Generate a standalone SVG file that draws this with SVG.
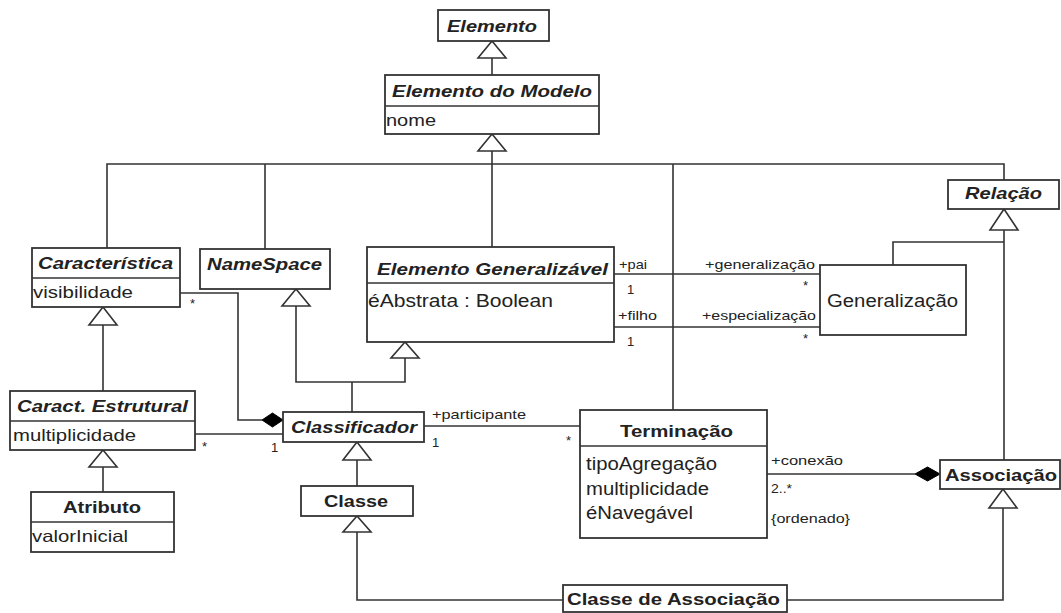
<svg xmlns="http://www.w3.org/2000/svg" width="1061" height="613" viewBox="0 0 1061 613">
  <style>
    .box { fill: #fff; stroke: #333; stroke-width: 1.8; }
    .div { stroke: #333; stroke-width: 1.5; }
    .ln { fill: none; stroke: #333; stroke-width: 1.6; }
    .tri { fill: #fff; stroke: #333; stroke-width: 1.6; }
    .dia { fill: #000; stroke: #000; stroke-width: 1; }
    text { font-family: "Liberation Sans", Arial, sans-serif; fill: #222; }
    .ab { font-weight: bold; font-style: italic; font-size: 16.5px; }
    .cb { font-weight: bold; font-size: 16.5px; }
    .at { font-size: 16.5px; }
    .at2 { font-size: 17.5px; }
    .lb { font-size: 13px; }
  </style>

  <!-- generalization / composition / association lines -->
  <g id="connectors">
    <!-- Elemento do Modelo -> Elemento -->
    <line class="ln" x1="492" y1="58" x2="492" y2="75"/>
    <polygon class="tri" points="492,41 478,58 506,58"/>
    <!-- tree under Elemento do Modelo -->
    <line class="ln" x1="492" y1="151" x2="492" y2="247"/>
    <polygon class="tri" points="492,134 478,151 506,151"/>
    <polyline class="ln" points="107,248 107,164 1004,164 1004,180"/>
    <line class="ln" x1="265" y1="164" x2="265" y2="249"/>
    <line class="ln" x1="673" y1="164" x2="673" y2="410"/>
    <!-- Relacao tree -->
    <polygon class="tri" points="1004,209 990,230 1018,230"/>
    <line class="ln" x1="1004" y1="230" x2="1004" y2="460"/>
    <polyline class="ln" points="1004,242 893,242 893,265"/>
    <!-- Caracteristica -> Caract. Estrutural -->
    <polygon class="tri" points="103,307 89,325 117,325"/>
    <line class="ln" x1="103" y1="325" x2="103" y2="391"/>
    <!-- Caract. Estrutural -> Atributo -->
    <polygon class="tri" points="103,450 89,467 117,467"/>
    <line class="ln" x1="103" y1="467" x2="103" y2="492"/>
    <!-- NameSpace + Elemento Generalizavel -> Classificador -->
    <polygon class="tri" points="296,289 282,306 310,306"/>
    <polygon class="tri" points="405,342 391,358 419,358"/>
    <polyline class="ln" points="296,306 296,382 405,382 405,358"/>
    <line class="ln" x1="352" y1="382" x2="352" y2="412"/>
    <!-- Caracteristica composed in Classificador -->
    <polyline class="ln" points="180,293 238,293 238,420 262,420"/>
    <polygon class="dia" points="262,420 272.5,413 283,420 272.5,427"/>
    <!-- Caract. Estrutural - Classificador -->
    <line class="ln" x1="195" y1="434" x2="283" y2="434"/>
    <!-- Classificador - Terminacao -->
    <line class="ln" x1="424" y1="426" x2="580" y2="426"/>
    <!-- pai / filho -->
    <line class="ln" x1="614" y1="274" x2="820" y2="274"/>
    <line class="ln" x1="614" y1="327" x2="820" y2="327"/>
    <!-- Classificador -> Classe -->
    <polygon class="tri" points="357,442 343,460 371,460"/>
    <line class="ln" x1="357" y1="460" x2="357" y2="486"/>
    <!-- Classe / Associacao -> Classe de Associacao -->
    <polygon class="tri" points="357,516 343,532 371,532"/>
    <polyline class="ln" points="357,532 357,600 563,600"/>
    <polygon class="tri" points="1003,489 989,508 1017,508"/>
    <polyline class="ln" points="787,600 1003,600 1003,508"/>
    <!-- Terminacao composed in Associacao -->
    <line class="ln" x1="767" y1="474" x2="915" y2="474"/>
    <polygon class="dia" points="915,474 927.5,467 940,474 927.5,481"/>
  </g>

  <!-- role and multiplicity labels -->
  <g id="labels">
    <text class="lb" x="619" y="269" textLength="28" lengthAdjust="spacingAndGlyphs">+pai</text>
    <text class="lb" x="627" y="294">1</text>
    <text class="lb" x="705" y="269" textLength="110" lengthAdjust="spacingAndGlyphs">+generalização</text>
    <text class="lb" x="803" y="290">*</text>
    <text class="lb" x="618" y="320" textLength="39" lengthAdjust="spacingAndGlyphs">+filho</text>
    <text class="lb" x="702" y="320" textLength="114" lengthAdjust="spacingAndGlyphs">+especialização</text>
    <text class="lb" x="627" y="346">1</text>
    <text class="lb" x="803" y="343">*</text>
    <text class="lb" x="190" y="308">*</text>
    <text class="lb" x="202" y="451">*</text>
    <text class="lb" x="271" y="452">1</text>
    <text class="lb" x="432" y="419" textLength="94" lengthAdjust="spacingAndGlyphs">+participante</text>
    <text class="lb" x="432" y="447">1</text>
    <text class="lb" x="566" y="445">*</text>
    <text class="lb" x="771" y="465" textLength="72" lengthAdjust="spacingAndGlyphs">+conexão</text>
    <text class="lb" x="771" y="493" textLength="21" lengthAdjust="spacingAndGlyphs">2..*</text>
    <text class="lb" x="771" y="523" textLength="79" lengthAdjust="spacingAndGlyphs">{ordenado}</text>
  </g>

  <g id="elemento">
    <rect class="box" x="438" y="10" width="111" height="31"/>
    <text class="ab" x="447" y="32" textLength="90" lengthAdjust="spacingAndGlyphs">Elemento</text>
  </g>

  <g id="elemento-do-modelo">
    <rect class="box" x="385" y="75" width="214" height="59"/>
    <line class="div" x1="385" y1="106" x2="599" y2="106"/>
    <text class="ab" x="392" y="97" textLength="200" lengthAdjust="spacingAndGlyphs">Elemento do Modelo</text>
    <text class="at" x="386" y="126" textLength="50" lengthAdjust="spacingAndGlyphs">nome</text>
  </g>

  <g id="caracteristica">
    <rect class="box" x="32" y="248" width="148" height="59"/>
    <line class="div" x1="32" y1="278" x2="180" y2="278"/>
    <text class="ab" x="38" y="269" textLength="135" lengthAdjust="spacingAndGlyphs">Característica</text>
    <text class="at" x="33" y="298" textLength="100" lengthAdjust="spacingAndGlyphs">visibilidade</text>
  </g>

  <g id="namespace">
    <rect class="box" x="200" y="249" width="130" height="40"/>
    <text class="ab" x="207" y="270" textLength="115" lengthAdjust="spacingAndGlyphs">NameSpace</text>
  </g>

  <g id="elemento-generalizavel">
    <rect class="box" x="367" y="247" width="247" height="95"/>
    <line class="div" x1="367" y1="283" x2="614" y2="283"/>
    <text class="ab" x="377" y="275" textLength="231" lengthAdjust="spacingAndGlyphs">Elemento Generalizável</text>
    <text class="at2" x="368" y="307" textLength="185" lengthAdjust="spacingAndGlyphs">éAbstrata : Boolean</text>
  </g>

  <g id="relacao">
    <rect class="box" x="948" y="180" width="111" height="29"/>
    <text class="ab" x="965" y="199" textLength="77" lengthAdjust="spacingAndGlyphs">Relação</text>
  </g>

  <g id="generalizacao">
    <rect class="box" x="820" y="265" width="146" height="70"/>
    <text class="at2" x="827" y="307" textLength="131" lengthAdjust="spacingAndGlyphs">Generalização</text>
  </g>

  <g id="caract-estrutural">
    <rect class="box" x="10" y="391" width="185" height="59"/>
    <line class="div" x1="10" y1="421" x2="195" y2="421"/>
    <text class="ab" x="17" y="412" textLength="171" lengthAdjust="spacingAndGlyphs">Caract. Estrutural</text>
    <text class="at" x="13" y="441" textLength="123" lengthAdjust="spacingAndGlyphs">multiplicidade</text>
  </g>

  <g id="atributo">
    <rect class="box" x="31" y="492" width="143" height="60"/>
    <line class="div" x1="31" y1="522" x2="174" y2="522"/>
    <text class="cb" x="63" y="513" textLength="78" lengthAdjust="spacingAndGlyphs">Atributo</text>
    <text class="at" x="32" y="542" textLength="96" lengthAdjust="spacingAndGlyphs">valorInicial</text>
  </g>

  <g id="classificador">
    <rect class="box" x="283" y="412" width="141" height="30"/>
    <text class="ab" x="291" y="433" textLength="126" lengthAdjust="spacingAndGlyphs">Classificador</text>
  </g>

  <g id="classe">
    <rect class="box" x="301" y="486" width="112" height="30"/>
    <text class="cb" x="324" y="507" textLength="64" lengthAdjust="spacingAndGlyphs">Classe</text>
  </g>

  <g id="terminacao">
    <rect class="box" x="580" y="410" width="187" height="128"/>
    <line class="div" x1="580" y1="446" x2="767" y2="446"/>
    <text class="cb" x="620" y="437" textLength="113" lengthAdjust="spacingAndGlyphs">Terminação</text>
    <text class="at2" x="586" y="470" textLength="131" lengthAdjust="spacingAndGlyphs">tipoAgregação</text>
    <text class="at2" x="586" y="495" textLength="123" lengthAdjust="spacingAndGlyphs">multiplicidade</text>
    <text class="at2" x="586" y="519" textLength="107" lengthAdjust="spacingAndGlyphs">éNavegável</text>
  </g>

  <g id="associacao">
    <rect class="box" x="940" y="460" width="120" height="29"/>
    <text class="cb" x="945" y="481" textLength="112" lengthAdjust="spacingAndGlyphs">Associação</text>
  </g>

  <g id="classe-de-associacao">
    <rect class="box" x="563" y="585" width="224" height="27"/>
    <text class="cb" x="567" y="605" textLength="213" lengthAdjust="spacingAndGlyphs">Classe de Associação</text>
  </g>
</svg>
